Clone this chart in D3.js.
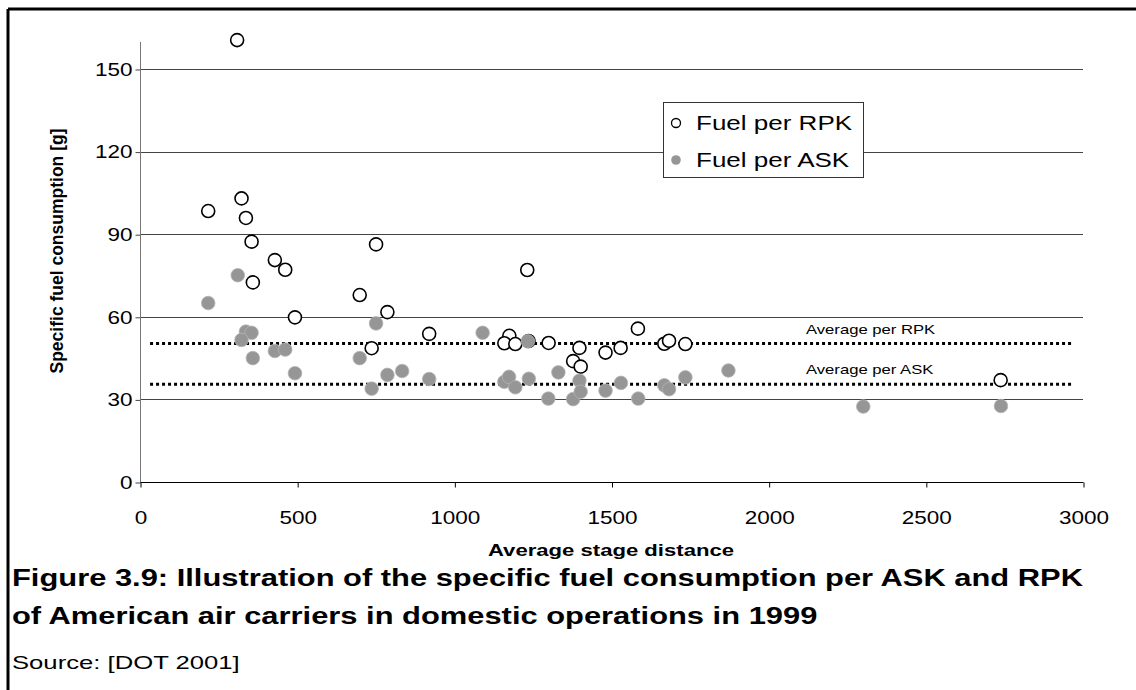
<!DOCTYPE html>
<html><head><meta charset="utf-8">
<script src="https://cdn.jsdelivr.net/npm/d3@7"></script>
<style>
html,body{margin:0;padding:0;background:#fff;}
svg{display:block;font-family:Arial,"Liberation Sans",sans-serif;}
</style></head>
<body>
<svg id="chart" width="1136" height="690"></svg>
<script>
// ---- data ----
const rpkDistance = [309,217,323,337,355,429,462,359,493,751,699,787,920,737,1232,1175,1159,1194,1236,1300,1398,1378,1402,1481,1529,1584,1668,1683,1735,2738];
const rpkFuel     = [160.5,98.4,103.0,95.9,87.3,80.6,77.1,72.5,59.8,86.3,67.9,61.7,53.8,48.6,77.0,53.1,50.4,50.1,51.2,50.5,48.7,43.9,41.9,47.0,48.7,55.7,50.2,51.3,50.1,37.0];
const askDistance = [311,217,337,355,323,359,429,462,493,751,699,737,787,834,920,1090,1234,1159,1174,1194,1237,1299,1331,1378,1398,1402,1481,1530,1585,1668,1683,1735,1872,2301,2739];
const askFuel     = [75.1,65.0,54.6,54.2,51.6,45.0,47.6,48.1,39.5,57.6,45.0,33.9,38.9,40.3,37.4,54.2,51.1,36.4,38.2,34.4,37.5,30.3,39.8,30.1,36.8,32.8,33.2,36.0,30.3,35.1,33.7,38.0,40.5,27.4,27.6];
const averageNames  = ["Average per RPK","Average per ASK"];
const averageValues = [50.3, 35.5];
const averageSpan   = [32, 2962];
const xTicks = [0,500,1000,1500,2000,2500,3000];
const yTicks = [0,30,60,90,120,150];
const seriesNames = ["Fuel per RPK","Fuel per ASK"];
const xTitle = "Average stage distance";
const yTitle = "Specific fuel consumption [g]";
const captionLines = ["Figure 3.9: Illustration of the specific fuel consumption per ASK and RPK",
                      "of American air carriers in domestic operations in 1999"];
const sourceText = "Source: [DOT 2001]";

const STRETCH = 1.3; // reference text is horizontally wider than the installed Arial metrics
function stretch(sel, factor){
  sel.each(function(){
    const w = this.getComputedTextLength();
    d3.select(this).attr("textLength", w*factor).attr("lengthAdjust","spacingAndGlyphs");
  });
}

const svg = d3.select("#chart");
const x = d3.scaleLinear().domain([0,3000]).range([140,1083]);
const y = d3.scaleLinear().domain([0,150]).range([482,69]);
const yTop = 160;

// outer frame (top and left edges visible)
svg.append("line").attr("x1",8).attr("x2",1136).attr("y1",9).attr("y2",9).attr("stroke","#000").attr("stroke-width",3);
svg.append("line").attr("x1",8).attr("x2",8).attr("y1",9).attr("y2",690).attr("stroke","#000").attr("stroke-width",3);

// gridlines
svg.append("g").selectAll("line").data(yTicks.filter(d=>d>0)).join("line")
  .attr("x1",x(0)).attr("x2",x(3000)).attr("y1",d=>Math.round(y(d))+0.5).attr("y2",d=>Math.round(y(d))+0.5)
  .attr("stroke","#444").attr("stroke-width",1);

// y axis
const yAxis = svg.append("g").attr("transform",`translate(${x(0)+0.5},0.5)`)
  .call(d3.axisLeft(y).tickValues(yTicks).tickSize(5).tickPadding(3).tickFormat(d3.format("d")));
yAxis.select(".domain").remove();
yAxis.append("line").attr("x1",0).attr("x2",0).attr("y1",y(yTop)).attr("y2",y(0)).attr("stroke","#777");
yAxis.selectAll(".tick line").attr("stroke","#444");
yAxis.selectAll("text").attr("font-size",18).attr("fill","#000").attr("font-family",'Arial,"Liberation Sans",sans-serif');
stretch(yAxis.selectAll(".tick text"), 1.25);

// x axis
const xAxis = svg.append("g").attr("transform",`translate(0.5,${y(0)+0.5})`)
  .call(d3.axisBottom(x).tickValues(xTicks).tickSize(5).tickPadding(24).tickFormat(d3.format("d")));
xAxis.select(".domain").attr("d",`M${x(0)},0H${x(3000)}`).attr("stroke","#000");
xAxis.selectAll(".tick line").attr("stroke","#000");
xAxis.selectAll("text").attr("font-size",18).attr("fill","#000").attr("font-family",'Arial,"Liberation Sans",sans-serif');
stretch(xAxis.selectAll(".tick text"), 1.25);

// axis titles
svg.append("text").attr("x",611).attr("y",556).attr("text-anchor","middle")
  .attr("font-size",17).attr("font-weight","bold").text(xTitle).call(stretch, STRETCH);
svg.append("text").attr("transform",`translate(63,251) rotate(-90)`).attr("text-anchor","middle")
  .attr("font-size",17.5).attr("font-weight","bold").text(yTitle);

// average lines
svg.append("g").selectAll("line").data(averageValues).join("line")
  .attr("x1",x(averageSpan[0])).attr("x2",x(averageSpan[1]))
  .attr("y1",d=>y(d)).attr("y2",d=>y(d))
  .attr("stroke","#000").attr("stroke-width",3).attr("stroke-dasharray","3,3");
svg.append("g").selectAll("text").data(averageNames).join("text")
  .attr("x",806).attr("y",(d,i)=>y(averageValues[i])-10)
  .attr("font-size",13).attr("fill","#000").text(d=>d).call(stretch, 1.28);

// points
const rpk = rpkDistance.map((d,i)=>({x:d,y:rpkFuel[i]}));
const ask = askDistance.map((d,i)=>({x:d,y:askFuel[i]}));
svg.append("g").selectAll("circle").data(rpk).join("circle")
  .attr("cx",d=>x(d.x)).attr("cy",d=>y(d.y)).attr("r",6.5)
  .attr("fill","#fff").attr("stroke","#000").attr("stroke-width",1.6);
svg.append("g").selectAll("circle").data(ask).join("circle")
  .attr("cx",d=>x(d.x)).attr("cy",d=>y(d.y)).attr("r",6.8)
  .attr("fill","#969696").attr("stroke","#b4b4b4").attr("stroke-width",0.8);

// legend
const lg = svg.append("g");
lg.append("rect").attr("x",663.5).attr("y",102.5).attr("width",200).attr("height",75)
  .attr("fill","#fff").attr("stroke","#333").attr("stroke-width",1);
lg.append("circle").attr("cx",676).attr("cy",123).attr("r",4.5).attr("fill","#fff").attr("stroke","#000").attr("stroke-width",1.3);
lg.append("circle").attr("cx",676).attr("cy",160).attr("r",4.8).attr("fill","#969696");
lg.selectAll("text").data(seriesNames).join("text")
  .attr("x",696).attr("y",(d,i)=>123+i*37+7).attr("font-size",20).attr("fill","#000").text(d=>d).call(stretch, STRETCH);

// caption
const cap = svg.append("g").selectAll("text").data(captionLines).join("text")
  .attr("x",12).attr("y",(d,i)=>586+i*38).attr("font-size",23.5).attr("font-weight","bold").attr("fill","#000").text(d=>d);
const capFactor = 1071 / cap.nodes()[0].getComputedTextLength();
cap.call(stretch, capFactor);
svg.append("text").attr("x",12).attr("y",669).attr("font-size",19).attr("fill","#000").text(sourceText).call(stretch, 1.35);
</script>
</body></html>
